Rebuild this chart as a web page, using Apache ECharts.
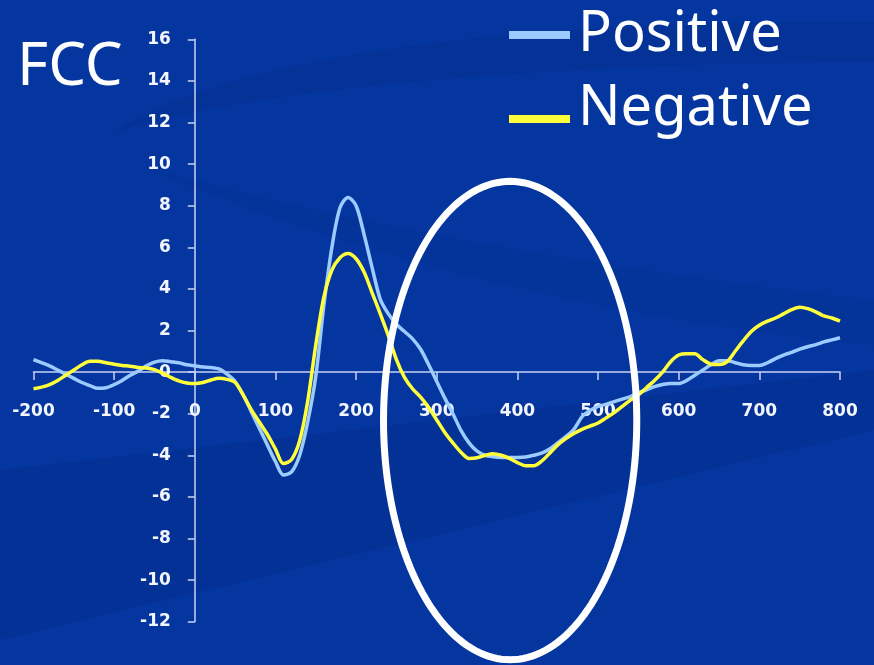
<!DOCTYPE html>
<html>
<head>
<meta charset="utf-8">
<script src="https://cdn.jsdelivr.net/npm/echarts@6/dist/echarts.min.js"></script>
<style>
html,body{margin:0;padding:0;background:#0536a0;}
#chart{width:874px;height:665px;}
</style>
</head>
<body>
<div id="chart"></div>
<script>
// ---- data ----
const times = [];
for (let t = -200; t <= 800; t += 10) times.push(t);

const positiveValues = [
  0.6, 0.45, 0.3, 0.1, -0.1, -0.3, -0.5, -0.65, -0.78, -0.75,
  -0.6, -0.4, -0.15, 0.05, 0.3, 0.48, 0.55, 0.5, 0.45, 0.35,
  0.3, 0.25, 0.22, 0.15, -0.1, -0.45, -1.1, -1.9, -2.7, -3.5,
  -4.3, -4.95, -4.8, -4.0, -2.4, -0.2, 3.2, 6.0, 7.9, 8.4,
  8.0, 6.6, 5.0, 3.5, 2.8, 2.3, 1.95, 1.6, 1.1, 0.35,
  -0.45, -1.25, -2.0, -2.8, -3.4, -3.8, -4.0, -4.07, -4.1, -4.1,
  -4.1, -4.08, -4.0, -3.9, -3.7, -3.4, -3.1, -2.75, -2.15, -1.85,
  -1.65, -1.55, -1.42, -1.3, -1.18, -1.0, -0.85, -0.7, -0.6, -0.55,
  -0.55, -0.4, -0.15, 0.1, 0.35, 0.55, 0.55, 0.45, 0.35, 0.32,
  0.32, 0.45, 0.65, 0.82, 0.95, 1.1, 1.22, 1.32, 1.45, 1.55,
  1.65
];

const negativeValues = [
  -0.8, -0.72, -0.6, -0.4, -0.15, 0.1, 0.35, 0.52, 0.52, 0.45,
  0.38, 0.32, 0.28, 0.22, 0.2, 0.12, -0.05, -0.25, -0.42, -0.52,
  -0.55, -0.5, -0.38, -0.3, -0.35, -0.5, -1.1, -1.8, -2.4, -3.0,
  -3.7, -4.4, -4.2, -3.3, -1.4, 1.3, 3.6, 4.9, 5.5, 5.7,
  5.45, 4.8, 3.8, 2.8, 1.75, 0.6, -0.25, -0.8, -1.2, -1.7,
  -2.3, -2.9, -3.4, -3.85, -4.15, -4.12, -4.0, -3.92, -4.0, -4.15,
  -4.35, -4.5, -4.5, -4.28, -3.9, -3.5, -3.2, -2.95, -2.75, -2.6,
  -2.45, -2.2, -1.95, -1.65, -1.35, -1.1, -0.75, -0.4, 0.0, 0.5,
  0.82, 0.88, 0.88, 0.6, 0.38, 0.36, 0.5, 1.0, 1.5, 1.95,
  2.25, 2.45, 2.6, 2.8, 3.0, 3.12, 3.05, 2.9, 2.7, 2.6,
  2.45
];

const seriesNames = ['Positive', 'Negative'];
const chartTitle = 'FCC';
// highlight ellipse in data units: centre (ms, value), radii
const highlightCenter = [391, -2.33];
const highlightRadii = [157, 11.5];

// ---- chart ----
const chart = echarts.init(document.getElementById('chart'), null, {renderer: 'canvas'});
const axisColor = '#c9d2f2';
const labelFont = {color: '#f4f6ff', fontFamily: 'DejaVu Sans', fontSize: 17, fontWeight: 'bold'};
const legendText = {color: '#ffffff', fontFamily: 'Noto Sans', fontSize: 56};

function legendFor(name, top, iconH, icon) {
  return {
    orient: 'vertical', left: 509, top: top, padding: 0,
    itemWidth: 61, itemHeight: iconH, icon: icon,
    data: [name],
    textStyle: Object.assign({padding: [0, 0, 0, 3]}, legendText)
  };
}

const option = {
  backgroundColor: '#0536a0',
  animation: false,
  title: {
    text: chartTitle,
    left: 12,
    top: 33,
    textStyle: {color: '#ffffff', fontFamily: 'Noto Sans', fontSize: 60, fontWeight: 'normal'}
  },
  legend: [
    legendFor(seriesNames[0], 7, 8, 'rect'),
    // bar drawn at the bottom of a taller icon box so it sits near the text baseline
    legendFor(seriesNames[1], 81, 28, 'path://M0,0h0.01v0.01h-0.01zM0,20h61v8h-61z')
  ],
  grid: {left: 33.5, right: 34, top: 39.3, bottom: 43.3, containLabel: false, outerBoundsMode: 'none'},
  xAxis: {
    type: 'value',
    min: -200, max: 800, interval: 100,
    position: 'bottom',
    axisLine: {onZero: false, lineStyle: {color: axisColor, width: 1.5}},
    axisTick: {show: true, length: 8, lineStyle: {color: axisColor, width: 1.5}},
    axisLabel: Object.assign({margin: 31}, labelFont),
    splitLine: {show: false}
  },
  yAxis: {
    type: 'value',
    min: -12, max: 16, interval: 2,
    position: 'left',
    axisLine: {show: true, onZero: false, lineStyle: {color: axisColor, width: 1.5}},
    axisTick: {show: true, length: 7, lineStyle: {color: axisColor, width: 1.5}},
    axisLabel: Object.assign({margin: 24}, labelFont),
    splitLine: {show: false}
  },
  series: [
    {
      name: seriesNames[0], type: 'line', showSymbol: false, smooth: 0.3,
      data: times.map((t, i) => [t, positiveValues[i]]),
      lineStyle: {color: '#9ccbff', width: 3.5},
      itemStyle: {color: '#9ccbff'}, z: 3
    },
    {
      name: seriesNames[1], type: 'line', showSymbol: false, smooth: 0.3,
      data: times.map((t, i) => [t, negativeValues[i]]),
      lineStyle: {color: '#ffff3c', width: 3.5},
      itemStyle: {color: '#ffff3c'}, z: 4
    }
  ]
};
chart.setOption(option);

// move both axes (line, ticks and labels) onto the zero crossing of the other axis
const zero = chart.convertToPixel({gridIndex: 0}, [0, 0]);
const corner = chart.convertToPixel({gridIndex: 0}, [-200, -12]);
chart.setOption({
  xAxis: {offset: -(corner[1] - zero[1])},
  yAxis: {offset: -(zero[0] - corner[0])}
});

// sample a cubic bezier into points (for decorative background shapes)
function bez(p0, p1, p2, p3, n) {
  const pts = [];
  for (let i = 0; i <= n; i++) {
    const t = i / n, u = 1 - t;
    pts.push([
      u*u*u*p0[0] + 3*u*u*t*p1[0] + 3*u*t*t*p2[0] + t*t*t*p3[0],
      u*u*u*p0[1] + 3*u*u*t*p1[1] + 3*u*t*t*p2[1] + t*t*t*p3[1]
    ]);
  }
  return pts;
}
const swooshTop = bez([874, 22], [600, 20], [250, 40], [110, 135], 30)
  .concat(bez([110, 135], [240, 85], [600, 62], [874, 62], 30));
const swooshMid = bez([140, 165], [400, 240], [700, 280], [874, 300], 30)
  .concat(bez([874, 345], [700, 330], [400, 280], [140, 165], 30));

// highlight ellipse computed from data coordinates
const c = chart.convertToPixel({gridIndex: 0}, highlightCenter);
const e = chart.convertToPixel({gridIndex: 0}, [highlightCenter[0] + highlightRadii[0], highlightCenter[1] + highlightRadii[1]]);
const rx = Math.abs(e[0] - c[0]), ry = Math.abs(e[1] - c[1]);
const ellPts = [];
for (let i = 0; i < 180; i++) {
  const a = i / 180 * Math.PI * 2;
  ellPts.push([c[0] + rx * Math.cos(a), c[1] + ry * Math.sin(a)]);
}

chart.setOption({
  graphic: [
    {
      type: 'polygon', z: -10, silent: true,
      shape: {points: [[0, 470], [874, 370], [874, 430], [0, 640]]},
      style: {fill: 'rgba(0,25,100,0.18)'}
    },
    {
      type: 'polygon', z: -10, silent: true,
      shape: {points: swooshTop, smooth: 0},
      style: {fill: 'rgba(0,25,100,0.14)'}
    },
    {
      type: 'polygon', z: -10, silent: true,
      shape: {points: swooshMid, smooth: 0},
      style: {fill: 'rgba(0,25,100,0.10)'}
    },
    {
      type: 'polygon', z: 100, silent: true,
      shape: {points: ellPts},
      style: {fill: 'none', stroke: '#ffffff', lineWidth: 7}
    }
  ]
});
</script>
</body>
</html>
